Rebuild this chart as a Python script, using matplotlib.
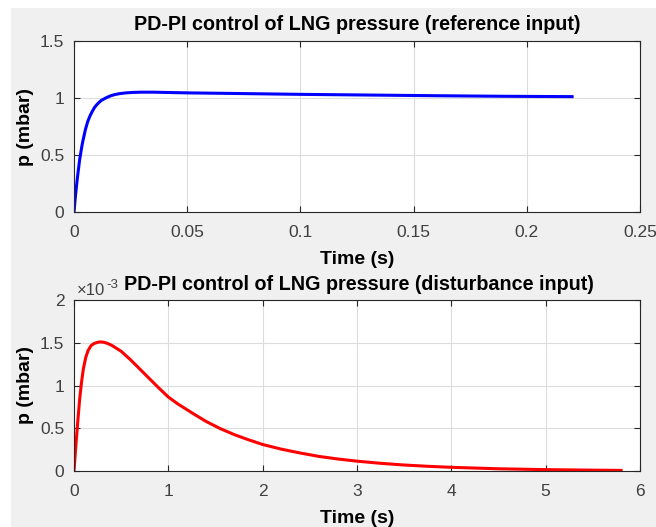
import matplotlib
matplotlib.use("Agg")
import matplotlib.pyplot as plt
from matplotlib.patches import Rectangle

# ---- data ----
t_ref = [0, 0.0005, 0.001, 0.0015, 0.002, 0.0025, 0.003, 0.0035, 0.004,
         0.005, 0.006, 0.007, 0.008, 0.009, 0.010, 0.011, 0.012, 0.014,
         0.016, 0.018, 0.020, 0.023, 0.026, 0.030, 0.035, 0.040, 0.050,
         0.070, 0.100, 0.130, 0.160, 0.190, 0.220]
p_ref = [0, 0.11, 0.21, 0.30, 0.38, 0.46, 0.52, 0.58, 0.63,
         0.72, 0.79, 0.84, 0.88, 0.915, 0.94, 0.96, 0.978, 1.0,
         1.018, 1.03, 1.038, 1.045, 1.049, 1.051, 1.051, 1.049, 1.045,
         1.04, 1.032, 1.026, 1.02, 1.015, 1.012]

t_dist = [0, 0.02, 0.04, 0.06, 0.08, 0.10, 0.125, 0.15, 0.18, 0.21, 0.25,
          0.28, 0.32, 0.36, 0.40, 0.45, 0.50, 0.60, 0.70, 0.80, 0.90, 1.00, 1.10,
          1.265, 1.40, 1.548, 1.70, 1.85, 2.00, 2.20, 2.40, 2.60, 2.80, 3.00,
          3.25, 3.50, 3.75, 4.00, 4.50, 5.00, 5.40, 5.80]
p_dist = [0, 0.30, 0.58, 0.84, 1.04, 1.20, 1.33, 1.41, 1.465, 1.49, 1.505,
          1.51, 1.505, 1.49, 1.47, 1.435, 1.40, 1.30, 1.19, 1.08, 0.97, 0.865, 0.785,
          0.67, 0.58, 0.497, 0.425, 0.365, 0.31, 0.255, 0.21, 0.17, 0.14, 0.115,
          0.09, 0.07, 0.055, 0.043, 0.026, 0.016, 0.011, 0.007]  # x 1e-3

ref_xticks = [0, 0.05, 0.1, 0.15, 0.2, 0.25]
ref_xticklabels = ["0", "0.05", "0.1", "0.15", "0.2", "0.25"]
ref_yticks = [0, 0.5, 1, 1.5]
ref_yticklabels = ["0", "0.5", "1", "1.5"]
dist_xticks = [0, 1, 2, 3, 4, 5, 6]
dist_yticks = [0, 0.5, 1, 1.5, 2]
dist_yticklabels = ["0", "0.5", "1", "1.5", "2"]

plt.rcParams['font.family'] = ['Liberation Sans', 'DejaVu Sans']

W, H = 656, 527
fig = plt.figure(figsize=(W / 100, H / 100), dpi=100)
fig.patch.set_facecolor('white')
fig.patches.append(Rectangle((11 / W, 0), 1, 1 - 8 / H, transform=fig.transFigure,
                             facecolor='#f0f0f0', edgecolor='none', zorder=-10))

edge = '#262626'
tickc = '#404040'


def style(ax):
    ax.set_facecolor('white')
    for s in ax.spines.values():
        s.set_color(edge)
        s.set_linewidth(0.8)
    ax.tick_params(direction='in', top=True, right=True, colors=edge,
                   labelcolor=tickc, labelsize=12.5, length=4)
    ax.tick_params(axis='x', pad=9)
    ax.tick_params(axis='y', pad=7)
    ax.grid(True, color='#dcdcdc', linewidth=0.8)
    ax.set_axisbelow(True)


ax1 = fig.add_axes([74 / W, 1 - 212 / H, 566 / W, 171 / H])
style(ax1)
ax1.plot(t_ref, p_ref, color='#0000ff', linewidth=2.2, solid_joinstyle='round')
ax1.set_xlim(0, 0.25)
ax1.set_ylim(0, 1.5)
ax1.set_xticks(ref_xticks)
ax1.set_xticklabels(ref_xticklabels)
ax1.set_yticks(ref_yticks)
ax1.set_yticklabels(ref_yticklabels)
ax1.set_title('PD-PI control of LNG pressure (reference input)',
              fontsize=14.2, fontweight='bold', pad=8, color='black')
ax1.set_xlabel('Time (s)', fontsize=14, fontweight='bold', labelpad=8.5)
ax1.set_ylabel('p (mbar)', fontsize=14, fontweight='bold', labelpad=4)

ax2 = fig.add_axes([74 / W, 1 - 471 / H, 566 / W, 171 / H])
style(ax2)
ax2.plot(t_dist, p_dist, color='#ff0000', linewidth=2.2, solid_joinstyle='round')
ax2.set_xlim(0, 6)
ax2.set_ylim(0, 2)
ax2.set_xticks(dist_xticks)
ax2.set_yticks(dist_yticks)
ax2.set_yticklabels(dist_yticklabels)
ax2.set_title('PD-PI control of LNG pressure (disturbance input)',
              fontsize=14.2, fontweight='bold', pad=7, color='black', x=0.503)
ax2.set_xlabel('Time (s)', fontsize=14, fontweight='bold', labelpad=8)
ax2.set_ylabel('p (mbar)', fontsize=14, fontweight='bold', labelpad=4)
ax2.text(3 / 566, 1 + 5 / 171, '\u00d710', transform=ax2.transAxes,
         fontsize=12, color=tickc, ha='left', va='baseline', zorder=5)
ax2.text(32 / 566, 1 + 12 / 171, '-3', transform=ax2.transAxes,
         fontsize=9.5, color=tickc, ha='left', va='baseline', zorder=5)

fig.savefig('out.png', dpi=100, facecolor=fig.get_facecolor())
